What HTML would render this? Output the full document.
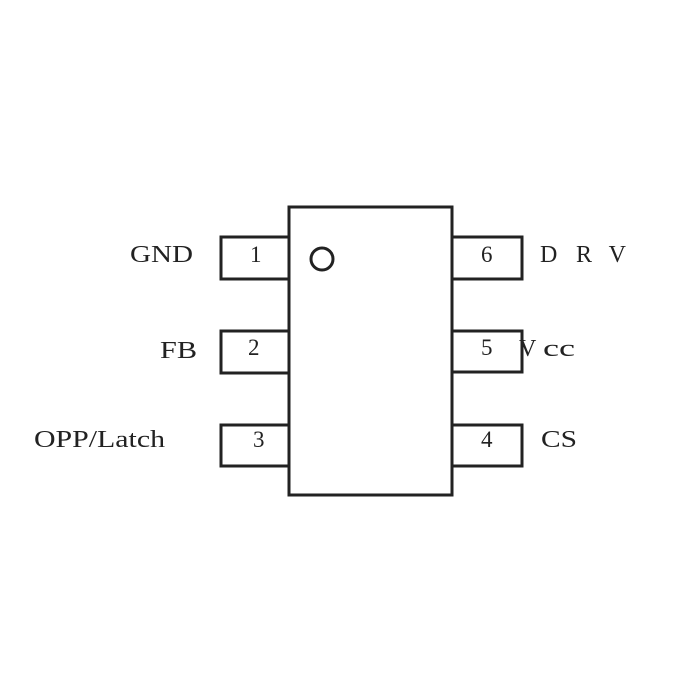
<!DOCTYPE html>
<html><head><style>
html,body{margin:0;padding:0;background:#fff;}
svg{display:block}
text{font-family:"Liberation Serif",serif;fill:#222;}
</style></head><body>
<svg width="700" height="700" viewBox="0 0 700 700">
<g fill="none" stroke="#222" stroke-width="3">
<rect x="289" y="207" width="163" height="288"/>
<rect x="221" y="237" width="68" height="42"/>
<rect x="221" y="331" width="68" height="42"/>
<rect x="221" y="425" width="68" height="41"/>
<rect x="452" y="237" width="70" height="42"/>
<rect x="452" y="331" width="70" height="41"/>
<rect x="452" y="425" width="70" height="41"/>
<circle cx="322" cy="259" r="11"/>
</g>
<g font-size="23">
<text x="250" y="262">1</text>
<text x="248" y="355">2</text>
<text x="253" y="447">3</text>
<text x="481" y="262">6</text>
<text x="481" y="355">5</text>
<text x="481" y="447">4</text>
</g>
<g font-size="24">
<text x="130" y="262" textLength="63" lengthAdjust="spacingAndGlyphs">GND</text>
<text x="160" y="358" textLength="37" lengthAdjust="spacingAndGlyphs">FB</text>
<text x="34" y="447" textLength="131" lengthAdjust="spacingAndGlyphs">OPP/Latch</text>
<text x="540" y="262" textLength="86" lengthAdjust="spacing">DRV</text>
<text x="519" y="356">V</text>
<text x="543" y="356" textLength="32" lengthAdjust="spacingAndGlyphs">cc</text>
<text x="541" y="447" textLength="36" lengthAdjust="spacingAndGlyphs">CS</text>
</g>
</svg>
</body></html>
